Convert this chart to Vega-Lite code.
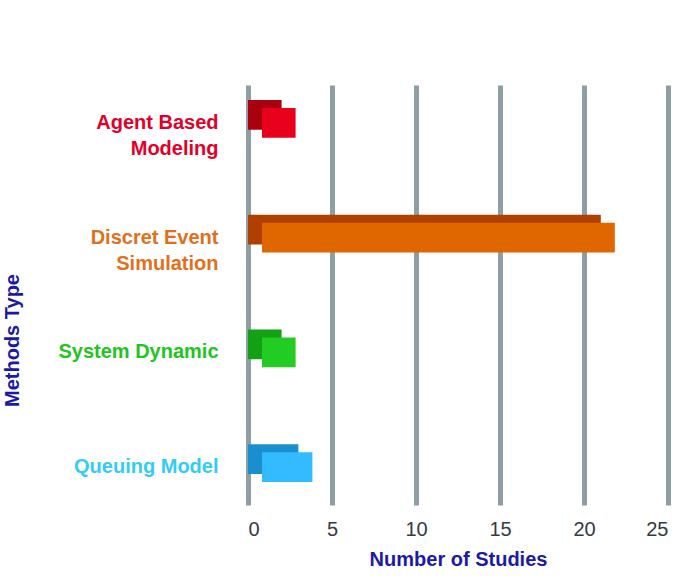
{
  "$schema": "https://vega.github.io/schema/vega-lite/v6.json",
  "autosize": "none",
  "width": 420,
  "height": 420,
  "padding": {"left": 248, "top": 85, "right": 17, "bottom": 75},
  "background": "white",
  "config": {"view": {"stroke": null}},
  "data": {"values": [
    {"method": "Agent Based Modeling", "studies": 2},
    {"method": "Discret Event Simulation", "studies": 21},
    {"method": "System Dynamic", "studies": 2},
    {"method": "Queuing Model", "studies": 3}
  ]},
  "encoding": {
    "y": {
      "field": "method", "type": "nominal",
      "sort": ["Agent Based Modeling", "Discret Event Simulation", "System Dynamic", "Queuing Model"],
      "scale": {"paddingInner": 0.74, "paddingOuter": 0.2},
      "axis": {
        "title": "Methods Type",
        "titleColor": "#1a1aa6",
        "titleFont": "Liberation Sans",
        "titleFontSize": 20,
        "titleFontWeight": "bold",
        "titleAngle": -90,
        "titleX": -226,
        "titleY": 255,
        "domain": false,
        "ticks": false,
        "labelPadding": 30,
        "labelFont": "Liberation Sans",
        "labelFontSize": 20,
        "labelFontWeight": "bold",
        "labelLineHeight": 26,
        "labelLimit": 300,
        "labelExpr": "datum.value == 'Agent Based Modeling' ? ['Agent Based', 'Modeling'] : datum.value == 'Discret Event Simulation' ? ['Discret Event', 'Simulation'] : datum.value",
        "labelColor": [
          {"test": "datum.value == 'Agent Based Modeling'", "value": "#e0002a"},
          {"test": "datum.value == 'Discret Event Simulation'", "value": "#e0701c"},
          {"test": "datum.value == 'System Dynamic'", "value": "#22c422"},
          {"value": "#33ccf5"}
        ]
      }
    },
    "x": {
      "field": "studies", "type": "quantitative",
      "scale": {"domain": [0, 25], "nice": false},
      "axis": {
        "title": "Number of Studies",
        "titleColor": "#1a1aa6",
        "titleFont": "Liberation Sans",
        "titleFontSize": 20,
        "titleFontWeight": "bold",
        "titlePadding": 10,
        "values": [0, 5, 10, 15, 20, 25],
        "domain": false,
        "ticks": false,
        "grid": true,
        "gridColor": "#8d9fa4",
        "gridWidth": 5,
        "labelFont": "Liberation Sans",
        "labelFontSize": 20,
        "labelColor": "#333a44",
        "labelPadding": 14
      }
    }
  },
  "resolve": {"scale": {"color": "independent"}},
  "layer": [
    {
      "mark": {"type": "bar", "yOffset": -8, "cornerRadius": 0},
      "encoding": {
        "color": {
          "field": "method", "type": "nominal", "legend": null,
          "scale": {
            "domain": ["Agent Based Modeling", "Discret Event Simulation", "System Dynamic", "Queuing Model"],
            "range": ["#a8000f", "#b04000", "#14a014", "#1a8fcf"]
          }
        }
      }
    },
    {
      "mark": {"type": "bar", "xOffset": 14},
      "encoding": {
        "color": {
          "field": "method", "type": "nominal", "legend": null,
          "scale": {
            "domain": ["Agent Based Modeling", "Discret Event Simulation", "System Dynamic", "Queuing Model"],
            "range": ["#e8001c", "#e06600", "#22cc22", "#33bbff"]
          }
        }
      }
    }
  ]
}
